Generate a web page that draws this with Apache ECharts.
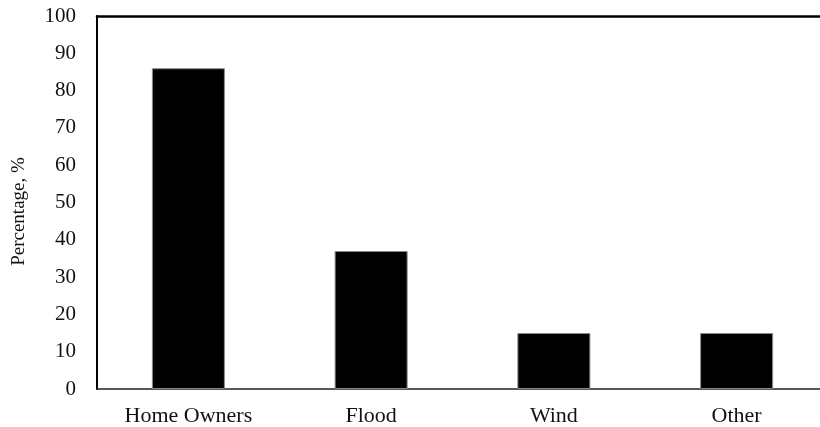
<!DOCTYPE html>
<html>
<head>
<meta charset="utf-8">
<script src="https://cdn.jsdelivr.net/npm/echarts@6/dist/echarts.min.js"></script>
<style>
html,body{margin:0;padding:0;background:#fff;overflow:hidden;}
#c{width:820px;height:427px;}
</style>
</head>
<body>
<div id="c"></div>
<script>
const categories = ['Home Owners', 'Flood', 'Wind', 'Other'];
const values = [86, 37, 15, 15];
const yTicks = [0, 10, 20, 30, 40, 50, 60, 70, 80, 90, 100];

const chart = echarts.init(document.getElementById('c'), null, {renderer: 'canvas'});
const font = '"Liberation Serif", "Times New Roman", serif';
chart.setOption({
  animation: false,
  backgroundColor: '#fff',
  grid: {left: 97, right: -8, top: 16, bottom: 38, containLabel: false, outerBoundsMode: 'none'},
  xAxis: [{
    type: 'category',
    data: categories,
    axisLine: {show: true, lineStyle: {color: '#222', width: 1.5}},
    axisTick: {show: false},
    axisLabel: {fontFamily: font, fontSize: 22, color: '#111', margin: 16}
  }, {
    type: 'category',
    position: 'top',
    data: categories,
    axisLine: {show: true, lineStyle: {color: '#000', width: 2.5}},
    axisTick: {show: false},
    axisLabel: {show: false}
  }],
  yAxis: {
    type: 'value',
    min: yTicks[0],
    max: yTicks[yTicks.length - 1],
    interval: 10,
    name: 'Percentage, %',
    nameLocation: 'middle',
    nameGap: 68,
    nameRotate: 90,
    nameTextStyle: {fontFamily: font, fontSize: 19, color: '#111', padding: [0, 18, 0, 0]},
    axisLine: {show: true, lineStyle: {color: '#000', width: 2}},
    axisTick: {show: false},
    splitLine: {show: false},
    axisLabel: {fontFamily: font, fontSize: 21, color: '#111', margin: 21}
  },
  series: [{
    type: 'bar',
    data: values,
    barWidth: 73,
    itemStyle: {color: '#000', borderColor: '#888', borderWidth: 1}
  }]
});
</script>
</body>
</html>
